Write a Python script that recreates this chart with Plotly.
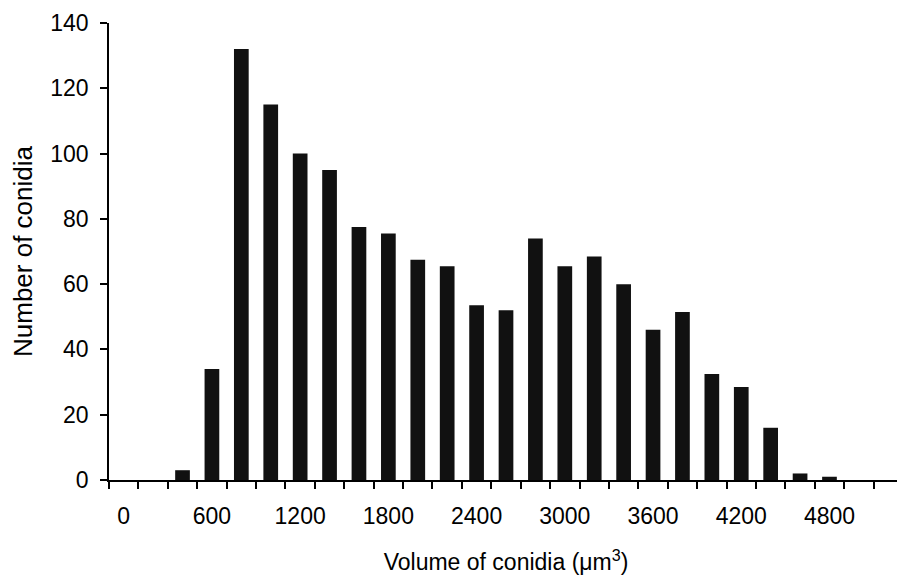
import plotly.graph_objects as go

# Histogram of conidia volume (bin centres in um^3) and counts
volume = [0, 200, 400, 600, 800, 1000, 1200, 1400, 1600, 1800, 2000, 2200, 2400,
          2600, 2800, 3000, 3200, 3400, 3600, 3800, 4000, 4200, 4400, 4600, 4800,
          5000, 5200]
counts = [0, 0, 3, 34, 132, 115, 100, 95, 77.5, 75.5, 67.5, 65.5, 53.5,
          52, 74, 65.5, 68.5, 60, 46, 51.5, 32.5, 28.5, 16, 2, 1, 0, 0]
x_labels = [0, 600, 1200, 1800, 2400, 3000, 3600, 4200, 4800]
y_ticks = [0, 20, 40, 60, 80, 100, 120, 140]

font = dict(family="Liberation Sans, Arial, sans-serif", size=22, color="black")

fig = go.Figure(go.Bar(x=volume, y=counts, width=100,
                       marker=dict(color="#111111", line=dict(width=0))))

# page body adds an 8px offset, so the figure is sized to fit inside the window
fig.update_layout(
    width=897, height=576,
    margin=dict(l=99, r=2, t=12, b=104),
    paper_bgcolor="white", plot_bgcolor="white",
    font=font, showlegend=False,
)

fig.update_xaxes(
    range=[-100, 5300], showgrid=False, zeroline=False,
    showline=True, linecolor="black", linewidth=1.5,
    tickmode="array", tickvals=x_labels, ticktext=[str(v) for v in x_labels],
    ticks="", ticklabelstandoff=15, tickfont=dict(size=23),
    minor=dict(tick0=-100, dtick=200, ticks="outside", ticklen=7,
               tickcolor="black", tickwidth=1.5, showgrid=False),
    title=dict(text="Volume of conidia (\u03bcm<sup>3</sup>)", standoff=26,
               font=dict(size=23)),
)

fig.update_yaxes(
    range=[0, 140], showgrid=False, zeroline=False,
    showline=True, linecolor="black", linewidth=1.5,
    tickmode="array", tickvals=y_ticks, tickfont=dict(size=23),
    ticks="outside", ticklen=7, tickcolor="black", tickwidth=1.5,
    ticklabelstandoff=7, ticklabeloverflow="allow",
    title=dict(text="Number of conidia", standoff=22),
)

fig.write_html("out.html")
